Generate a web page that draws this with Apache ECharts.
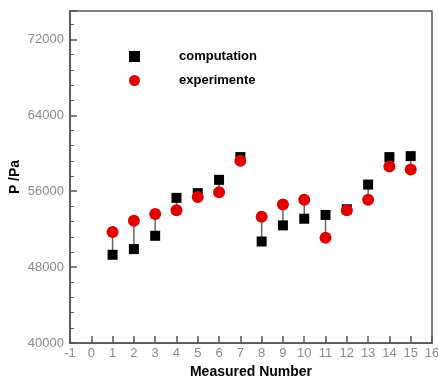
<!DOCTYPE html>
<html>
<head>
<meta charset="utf-8">
<script src="https://cdn.jsdelivr.net/npm/echarts@6/dist/echarts.min.js"></script>
<style>
  html, body { margin: 0; padding: 0; background: #fff; }
  #main { width: 438px; height: 376px; }
</style>
</head>
<body>
<div id="main"></div>
<script>
  // 측정 번호
  var measured = [1, 2, 3, 4, 5, 6, 7, 8, 9, 10, 11, 12, 13, 14, 15];
  // 계산값 (computation)
  var computation = [49300, 49900, 51300, 55300, 55800, 57200, 59600, 50700, 52400, 53100, 53500, 54100, 56700, 59600, 59700];
  // 실험값 (experimente)
  var experimente = [51700, 52900, 53600, 54000, 55400, 55900, 59200, 53300, 54600, 55100, 51100, 54000, 55100, 58600, 58300];

  var myChart = echarts.init(document.getElementById('main'));

  var compData = measured.map(function (m, i) { return [m, computation[i]]; });
  var expData = measured.map(function (m, i) { return [m, experimente[i]]; });
  var pairData = measured.map(function (m, i) { return [m, computation[i], experimente[i]]; });

  var labelStyle = { color: '#8a8a8a', fontSize: 13, fontFamily: 'Liberation Sans, Arial' };

  var option = {
    animation: false,
    grid: {
      left: 70, right: 6, top: 11, bottom: 33,
      outerBoundsMode: 'none',
      containLabel: false,
      show: true,
      borderColor: '#555',
      borderWidth: 1.5
    },
    legend: {
      orient: 'vertical',
      left: 124,
      top: 45,
      itemGap: 11,
      itemWidth: 11,
      itemHeight: 11,
      textStyle: {
        fontFamily: 'Liberation Sans, Arial',
        fontWeight: 'bold',
        fontSize: 13,
        color: '#000',
        padding: [0, 0, 0, 34]
      },
      data: [
        { name: 'computation', icon: 'rect' },
        { name: 'experimente', icon: 'circle' }
      ]
    },
    xAxis: {
      type: 'value',
      min: -1,
      max: 16,
      interval: 1,
      name: 'Measured Number',
      nameLocation: 'middle',
      nameGap: 22,
      nameMoveOverlap: false,
      nameTextStyle: { fontFamily: 'Liberation Sans, Arial', fontWeight: 'bold', fontSize: 14, color: '#000' },
      splitLine: { show: false },
      axisLine: { onZero: false, lineStyle: { color: '#555', width: 1.5 } },
      axisTick: { inside: true, length: 7, lineStyle: { color: '#555', width: 1.5 } },
      axisLabel: Object.assign({ margin: 4 }, labelStyle)
    },
    yAxis: {
      type: 'value',
      min: 40000,
      max: 75000,
      interval: 8000,
      name: 'P /Pa',
      nameLocation: 'middle',
      nameGap: 48,
      nameMoveOverlap: false,
      nameTextStyle: { fontFamily: 'Liberation Sans, Arial', fontWeight: 'bold', fontSize: 14, color: '#000' },
      splitLine: { show: false },
      axisLine: { onZero: false, lineStyle: { color: '#555', width: 1.5 } },
      axisTick: { inside: true, length: 7, lineStyle: { color: '#555', width: 1.5 } },
      minorTick: { show: true, splitNumber: 5, length: 4, lineStyle: { color: '#555', width: 1 } },
      axisLabel: Object.assign({
        margin: 6,
        showMaxLabel: false,
        formatter: function (v) { return String(v); }
      }, labelStyle)
    },
    series: [
      {
        // 계산값과 실험값을 잇는 세로선
        type: 'custom',
        silent: true,
        z: 1,
        renderItem: function (params, api) {
          var p1 = api.coord([api.value(0), api.value(1)]);
          var p2 = api.coord([api.value(0), api.value(2)]);
          return {
            type: 'line',
            shape: { x1: p1[0], y1: p1[1], x2: p2[0], y2: p2[1] },
            style: { stroke: '#666', lineWidth: 1.5 }
          };
        },
        encode: { x: 0, y: [1, 2] },
        data: pairData
      },
      {
        name: 'computation',
        type: 'scatter',
        symbol: 'rect',
        symbolSize: 10,
        z: 3,
        itemStyle: { color: '#000', opacity: 1 },
        data: compData
      },
      {
        name: 'experimente',
        type: 'scatter',
        symbol: 'circle',
        symbolSize: 12,
        z: 4,
        itemStyle: { color: '#e00000', opacity: 1 },
        data: expData
      }
    ]
  };

  myChart.setOption(option);
</script>
</body>
</html>
